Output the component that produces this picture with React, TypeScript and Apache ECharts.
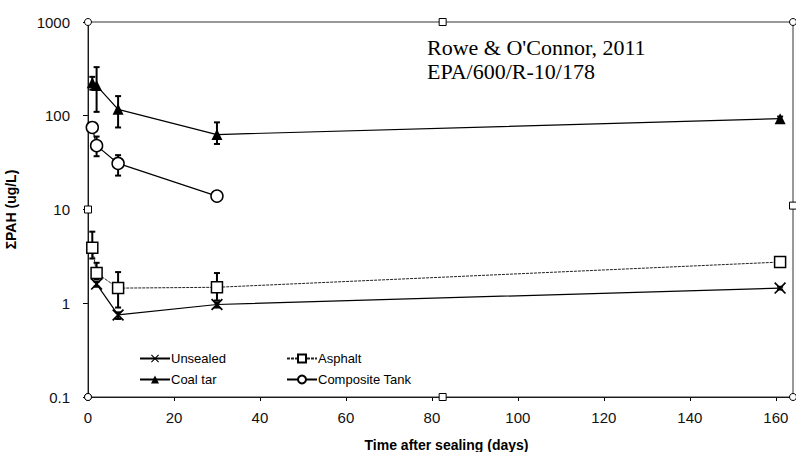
import React, { useEffect, useRef } from 'react';
import * as echarts from 'echarts';

// ---- data ----
const xTicks = [0, 20, 40, 60, 80, 100, 120, 140, 160];
const yTicks = ['0.1', '1', '10', '100', '1000'];

const unsealedX = [2, 7, 30, 161];
const unsealedY = [1.6, 0.75, 0.97, 1.45];
const unsealedLow = [1.5, 0.68, 0.9, 1.4];
const unsealedHigh = [1.7, 0.8, 1.02, 1.5];

const asphaltX = [1, 2, 7, 30, 161];
const asphaltY = [3.9, 2.1, 1.45, 1.48, 2.75];
const asphaltLow = [3.0, 1.8, 0.9, 1.07, 2.5];
const asphaltHigh = [5.8, 2.7, 2.15, 2.1, 3.0];

const coalX = [1, 2, 7, 30, 161];
const coalY = [225, 210, 117, 63, 93];
const coalLow = [190, 110, 75, 50, 88];
const coalHigh = [260, 330, 162, 85, 98];

const compX = [1, 2, 7, 30];
const compY = [75, 48, 31, 13.9];
const compLow = [70, 37, 23, 13];
const compHigh = [80, 60, 38, 15];

// plotting frame markers present in the original figure
const frameX = [0, 0, 0, 82.5, 164, 164, 164, 82.5, 0];
const frameY = [0.1, 10, 1000, 1000, 1000, 11, 0.1, 0.1, 0.1];
const frameSym = ['circle', 'rect', 'circle', 'rect', 'circle', 'rect', 'circle', 'rect', 'circle'];

const X_SYMBOL = 'path://M0,1 L1,0 L5,4 L9,0 L10,1 L6,5 L10,9 L9,10 L5,6 L1,10 L0,9 L4,5 Z';

function zip(xs: number[], ys: number[]) {
  return xs.map((x, i) => [x, ys[i]]);
}
function errData(xs: number[], lo: number[], hi: number[]) {
  return xs.map((x, i) => [x, lo[i], hi[i]]);
}

export default function App() {
  const ref = useRef<HTMLDivElement>(null);
  useEffect(() => {
    if (!ref.current) return;
    const chart = echarts.init(ref.current, null, { renderer: 'svg' });
    const font = 'Liberation Sans, Arial, sans-serif';
    const errSeries = (name: string, data: number[][]) => ({
      type: 'custom',
      name,
      data,
      z: 2,
      clip: false,
      encode: { x: 0, y: [1, 2] },
      renderItem: (params: any, api: any) => {
        const x = api.value(0);
        const p1 = api.coord([x, api.value(1)]);
        const p2 = api.coord([x, api.value(2)]);
        const w = 3;
        const st = { stroke: '#000', lineWidth: 2 };
        return {
          type: 'group',
          children: [
            { type: 'line', shape: { x1: p1[0], y1: p1[1], x2: p2[0], y2: p2[1] }, style: st },
            { type: 'line', shape: { x1: p1[0] - w, y1: p1[1], x2: p1[0] + w, y2: p1[1] }, style: st },
            { type: 'line', shape: { x1: p2[0] - w, y1: p2[1], x2: p2[0] + w, y2: p2[1] }, style: st },
          ],
        };
      },
    });
    const legendBase = {
      orient: 'vertical',
      top: 347,
      itemGap: 8,
      itemWidth: 30,
      itemHeight: 10,
      textStyle: { fontSize: 13, fontFamily: font, color: '#000', padding: [0, 0, 0, -4] },
    };
    chart.setOption({
      animation: false,
      backgroundColor: '#fff',
      grid: { left: 88, right: 3, top: 22, bottom: 55, outerBoundsMode: 'none', containLabel: false },
      legend: [
        { ...legendBase, left: 134, data: ['Unsealed', 'Coal tar'] },
        { ...legendBase, left: 281, data: ['Asphalt', 'Composite Tank'] },
      ],
      xAxis: {
        type: 'value',
        min: 0,
        max: 164,
        interval: 20,
        name: 'Time after sealing (days)',
        nameLocation: 'middle',
        nameGap: 41,
        nameTextStyle: { fontSize: 14, fontWeight: 'bold', fontFamily: font, color: '#000', padding: [0, 0, 0, 12] },
        splitLine: { show: false },
        axisLine: { lineStyle: { color: '#000', width: 1 } },
        axisTick: { length: 4, lineStyle: { color: '#000' } },
        axisLabel: {
          fontSize: 15,
          fontFamily: font,
          color: '#111',
          margin: 13,
          formatter: (v: number) => (xTicks.indexOf(v) >= 0 ? String(v) : ''),
        },
      },
      yAxis: {
        type: 'log',
        logBase: 10,
        min: 0.1,
        max: 1000,
        name: 'ΣPAH (ug/L)',
        nameLocation: 'middle',
        nameGap: 70,
        nameTextStyle: { fontSize: 14, fontWeight: 'bold', fontFamily: font, color: '#000' },
        splitLine: { show: false },
        minorTick: { show: false },
        axisLine: { show: true, lineStyle: { color: '#000', width: 1 } },
        axisTick: { show: true, length: 5, lineStyle: { color: '#000' } },
        axisLabel: {
          fontSize: 15,
          fontFamily: font,
          color: '#111',
          margin: 18,
          formatter: (v: number) => {
            const s = String(Number(v.toPrecision(3)));
            return yTicks.indexOf(s) >= 0 ? s : '';
          },
        },
      },
      graphic: [
        {
          type: 'text',
          left: 427,
          top: 35,
          style: {
            text: "Rowe & O'Connor, 2011\nEPA/600/R-10/178",
            font: '22px "Liberation Serif", "Times New Roman", serif',
            fill: '#000',
            lineHeight: 24,
          },
        },
      ],
      series: [
        {
          type: 'line',
          name: 'frame',
          data: frameX.map((x, i) => ({
            value: [x, frameY[i]],
            symbol: frameSym[i],
          })),
          symbolSize: 7,
          clip: false,
          z: 1,
          lineStyle: { color: '#333', width: 1 },
          itemStyle: { color: '#fff', borderColor: '#000', borderWidth: 1 },
          silent: true,
        },
        errSeries('errUnsealed', errData(unsealedX, unsealedLow, unsealedHigh)),
        errSeries('errAsphalt', errData(asphaltX, asphaltLow, asphaltHigh)),
        errSeries('errCoal', errData(coalX, coalLow, coalHigh)),
        errSeries('errComp', errData(compX, compLow, compHigh)),
        {
          type: 'line',
          name: 'Unsealed',
          data: zip(unsealedX, unsealedY),
          symbol: X_SYMBOL,
          symbolSize: 12,
          z: 3,
          lineStyle: { color: '#000', width: 1.2 },
          itemStyle: { color: '#000' },
        },
        {
          type: 'line',
          name: 'Asphalt',
          data: zip(asphaltX, asphaltY),
          symbol: 'rect',
          symbolSize: 11,
          z: 4,
          lineStyle: { color: '#222', width: 1, type: [3, 1] },
          itemStyle: { color: '#fff', borderColor: '#000', borderWidth: 1.5 },
        },
        {
          type: 'line',
          name: 'Coal tar',
          data: zip(coalX, coalY),
          symbol: 'triangle',
          symbolSize: 11,
          z: 5,
          lineStyle: { color: '#000', width: 1.2 },
          itemStyle: { color: '#000' },
        },
        {
          type: 'line',
          name: 'Composite Tank',
          data: zip(compX, compY),
          symbol: 'circle',
          symbolSize: 12,
          z: 4,
          lineStyle: { color: '#000', width: 1.2 },
          itemStyle: { color: '#fff', borderColor: '#000', borderWidth: 1.5 },
        },
      ],
    });
    return () => chart.dispose();
  }, []);
  return <div ref={ref} style={{ width: 796, height: 452, position: 'absolute', left: 0, top: 0 }} />;
}
